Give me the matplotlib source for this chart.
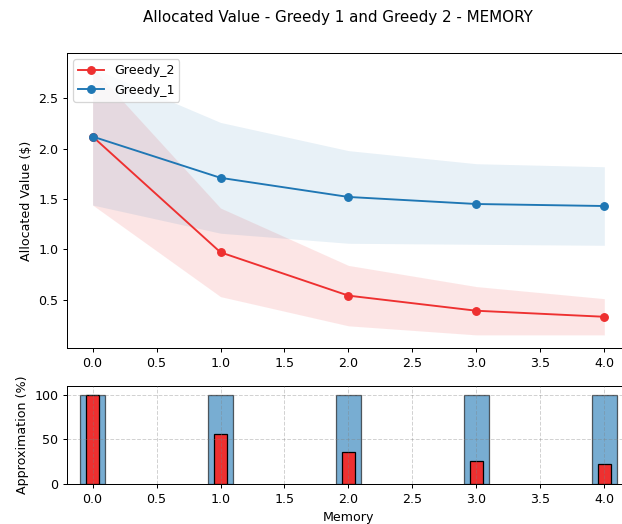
import matplotlib
matplotlib.use("Agg")
import matplotlib.pyplot as plt
import numpy as np

memory = [0, 1, 2, 3, 4]
greedy1_mean = [2.12, 1.71, 1.52, 1.45, 1.43]
greedy1_std = [0.68, 0.55, 0.46, 0.40, 0.39]
greedy2_mean = [2.12, 0.97, 0.54, 0.39, 0.33]
greedy2_std = [0.68, 0.44, 0.30, 0.24, 0.18]
greedy1_approx = [100, 100, 100, 100, 100]
greedy2_approx = [100, 56, 36, 26, 23]

BLUE = "#1f77b4"
RED = "#ee3030"
DPI = 91

fig = plt.figure(figsize=(622 / DPI, 524 / DPI), dpi=DPI)
ax = fig.add_axes([0.1077, 0.3359, 0.905, 0.563])
ax2 = fig.add_axes([0.1077, 0.0763, 0.905, 0.187])

x = np.array(memory)
m1, s1 = np.array(greedy1_mean), np.array(greedy1_std)
m2, s2 = np.array(greedy2_mean), np.array(greedy2_std)

# top: mean value with +/- std band
ax.plot(x, m2, "o-", color=RED, label="Greedy_2")
ax.fill_between(x, m2 - s2, m2 + s2, color=RED, alpha=0.12, linewidth=0)
ax.plot(x, m1, "o-", color=BLUE, label="Greedy_1")
ax.fill_between(x, m1 - s1, m1 + s1, color=BLUE, alpha=0.1, linewidth=0)
ax.set_ylabel("Allocated Value (\\$)")
ax.set_xlim(-0.2, 4.2)
ax.set_ylim(0.02, 2.95)
ax.legend(loc="upper left")

# bottom: approximation ratio
ax2.bar(x, greedy1_approx, width=0.2, color=BLUE, alpha=0.6, edgecolor="black")
ax2.bar(x, greedy2_approx, width=0.1, color=RED, edgecolor="black")
ax2.set_axisbelow(False)
ax2.grid(True, linestyle="--", color="gray", alpha=0.35)
ax2.set_xlim(-0.2, 4.2)
ax2.set_ylim(0, 110)
ax2.set_xlabel("Memory")
ax2.set_ylabel("Approximation (%)")

fig.suptitle("Allocated Value - Greedy 1 and Greedy 2 - MEMORY", x=0.543, y=0.981)
fig.savefig("out.png", dpi=DPI)
